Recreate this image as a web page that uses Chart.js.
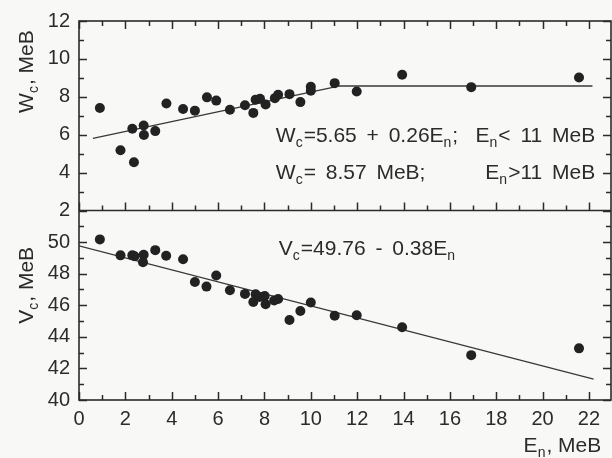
<!DOCTYPE html>
<html>
<head>
<meta charset="utf-8">
<script src="https://cdn.jsdelivr.net/npm/chart.js@4/dist/chart.umd.min.js"></script>
<style>
    body { margin: 0; background: #f8f8f6; }
    #wrap { width: 612px; height: 458px; overflow: hidden; }
</style>
</head>
<body>
<div id="wrap"><canvas id="myChart" width="616" height="458"></canvas></div>
<script>
// neutron energy E_n, MeB
const energies = [0.9, 1.79, 2.30, 2.37, 2.79, 2.80, 3.29, 3.77, 4.49, 5.00, 5.52, 5.92, 6.51, 7.16, 7.52,
    7.62, 7.81, 8.05, 8.45, 8.59, 9.08, 9.55, 10.0, 10.0, 11.03, 11.98, 13.94, 16.92, 21.57]
const wcValues = [7.41, 5.18, 6.31, 4.55, 6.49, 5.98, 6.19, 7.65, 7.36, 7.27, 7.97, 7.80, 7.32, 7.55, 7.15,
    7.85, 7.90, 7.59, 7.93, 8.11, 8.14, 7.72, 8.53, 8.32, 8.72, 8.28, 9.16, 8.51, 9.02]

const energiesV = [0.9, 1.79, 2.30, 2.40, 2.79, 2.76, 3.29, 3.76, 4.49, 5.00, 5.50, 5.92, 6.51, 7.16, 7.52,
    7.62, 7.79, 8.01, 8.05, 8.42, 8.59, 9.08, 9.55, 10.0, 11.03, 11.98, 13.94, 16.92, 21.57]
const vcValues = [50.17, 49.16, 49.16, 49.10, 49.20, 48.72, 49.49, 49.14, 48.91, 47.47, 47.18, 47.88, 46.95, 46.72, 46.21,
    46.70, 46.53, 46.59, 46.06, 46.30, 46.40, 45.07, 45.64, 46.17, 45.33, 45.37, 44.61, 42.84, 43.27]

// fit coefficients
const wcLow = [5.65, 0.26]   // W_c = a + b*E_n, E_n < 11
const wcHigh = 8.57          // E_n > 11
const wcBreak = 11
const vcFit = [49.76, -0.38]

const xTicks = [0, 2, 4, 6, 8, 10, 12, 14, 16, 18, 20, 22]
const wTicks = [2, 4, 6, 8, 10, 12]
const vTicks = [40, 42, 44, 46, 48, 50]
const X_MAX = 22.95
const W_MIN = 2, W_MAX = 12
const V_MIN = 40, V_MAX = 52

const INK = '#2b2b2b'
const FONT = '"Liberation Sans", Arial, sans-serif'
const MAIN_FONT = '21px ' + FONT
const SUB_FONT = '14px ' + FONT

const toPoints = (xs, ys) => xs.map((x, i) => ({ x: x, y: ys[i] }))
const linePts = (a, b, x0, x1) => [{ x: x0, y: a + b * x0 }, { x: x1, y: a + b * x1 }]

// text with subscripts, parts = [{t, sub}]
const drawRich = (c, parts, x, y, align) => {
    const widthOf = p => {
        c.font = p.sub ? SUB_FONT : MAIN_FONT
        return c.measureText(p.t).width + (p.sub ? 1 : 0)
    }
    const total = parts.reduce((s, p) => s + widthOf(p), 0)
    let cx = x
    if (align === 'right') cx = x - total
    if (align === 'center') cx = x - total / 2
    parts.forEach(p => {
        const w = widthOf(p)
        c.fillText(p.t, cx, p.sub ? y + 5 : y)
        cx += w
    })
}

const framePlugin = {
    id: 'frameAndTicks',
    afterDraw(chart) {
        const c = chart.ctx
        const a = chart.chartArea
        const sx = chart.scales.x, sW = chart.scales.yW, sV = chart.scales.yV
        const mid = sW.getPixelForValue(W_MIN)

        // tick marks pointing into the panels, major every 2, minor every 1
        c.save()
        c.strokeStyle = INK
        c.lineWidth = 1.5
        c.beginPath()
        for (let v = 0; v <= 22; v++) {
            const px = Math.round(sx.getPixelForValue(v)) + 0.5
            const len = v % 2 === 0 ? 8 : 5
            c.moveTo(px, a.top); c.lineTo(px, a.top + len)
            c.moveTo(px, mid); c.lineTo(px, mid - len)
            c.moveTo(px, a.bottom); c.lineTo(px, a.bottom - len)
        }
        const sideTicks = (scale, lo, hi) => {
            for (let v = lo; v <= hi; v++) {
                const py = Math.round(scale.getPixelForValue(v)) + 0.5
                const len = v % 2 === 0 ? 8 : 5
                c.moveTo(a.left, py); c.lineTo(a.left + len, py)
                c.moveTo(a.right, py); c.lineTo(a.right - len, py)
            }
        }
        sideTicks(sW, W_MIN, W_MAX)
        sideTicks(sV, V_MIN, V_MAX)
        c.stroke()

        // frame and panel divider
        c.lineWidth = 1.6
        c.strokeRect(a.left, a.top, a.right - a.left, a.bottom - a.top)
        c.beginPath()
        c.moveTo(a.left, mid); c.lineTo(a.right, mid)
        c.stroke()

        // formulas
        c.fillStyle = INK
        c.textBaseline = 'alphabetic'
        c.wordSpacing = '4px'
        const L = sx.getPixelForValue(8.49)
        const R = sx.getPixelForValue(22.27)
        const y1 = sW.getPixelForValue(5.61)
        const y2 = sW.getPixelForValue(3.68)
        drawRich(c, [{ t: 'W' }, { t: 'c', sub: true }, { t: '=5.65 + 0.26E' }, { t: 'n', sub: true }, { t: ';' }], L, y1, 'left')
        drawRich(c, [{ t: 'E' }, { t: 'n', sub: true }, { t: '< 11 MeB' }], R, y1, 'right')
        drawRich(c, [{ t: 'W' }, { t: 'c', sub: true }, { t: '= 8.57 MeB;' }], L, y2, 'left')
        drawRich(c, [{ t: 'E' }, { t: 'n', sub: true }, { t: '>11 MeB' }], R, y2, 'right')
        drawRich(c, [{ t: 'V' }, { t: 'c', sub: true }, { t: '=49.76 - 0.38E' }, { t: 'n', sub: true }],
            sx.getPixelForValue(8.62), sV.getPixelForValue(49.16), 'left')

        // axis titles
        c.wordSpacing = '0px'
        drawRich(c, [{ t: 'E' }, { t: 'n', sub: true }, { t: ', MeB' }], sx.getPixelForValue(22.53), a.bottom + 52, 'right')
        const yTitle = (parts, py) => {
            c.save()
            c.translate(a.left - 46, py)
            c.rotate(-Math.PI / 2)
            drawRich(c, parts, 0, 0, 'center')
            c.restore()
        }
        yTitle([{ t: 'W' }, { t: 'c', sub: true }, { t: ', MeB' }], sW.getPixelForValue(9.33))
        yTitle([{ t: 'V' }, { t: 'c', sub: true }, { t: ', MeB' }], sV.getPixelForValue(47.26))
        c.restore()
    }
}

const tickFont = { family: FONT, size: 20 }
const pointStyle = { pointRadius: 5, pointBackgroundColor: '#222222', pointBorderWidth: 0, order: 1 }
const fitStyle = { showLine: true, pointRadius: 0, borderColor: '#383838', borderWidth: 1.3, order: 2 }

const chartEl = document.getElementById('myChart')
new Chart(chartEl, {
    type: 'scatter',
    data: {
        datasets: [
            { data: toPoints(energies, wcValues), yAxisID: 'yW', ...pointStyle },
            { data: linePts(wcLow[0], wcLow[1], 0.6, wcBreak), yAxisID: 'yW', ...fitStyle },
            { data: linePts(wcHigh, 0, wcBreak, 22.15), yAxisID: 'yW', ...fitStyle },
            { data: toPoints(energiesV, vcValues), yAxisID: 'yV', ...pointStyle },
            { data: linePts(vcFit[0], vcFit[1], 0, 22.2), yAxisID: 'yV', ...fitStyle },
        ]
    },
    options: {
        responsive: false,
        animation: false,
        events: [],
        layout: { padding: { top: 19, right: 2, left: 0, bottom: 0 } },
        plugins: { legend: { display: false }, tooltip: { enabled: false } },
        scales: {
            x: {
                type: 'linear',
                min: 0,
                max: X_MAX,
                afterFit: scale => { scale.height = 58 },
                afterBuildTicks: scale => { scale.ticks = xTicks.map(v => ({ value: v })) },
                grid: { display: false, drawTicks: false },
                border: { display: false },
                ticks: { autoSkip: false, maxRotation: 0, padding: 7, color: INK, font: tickFont },
            },
            yV: {
                type: 'linear',
                position: 'left',
                stack: 'panels',
                min: V_MIN,
                max: V_MAX,
                afterFit: scale => { scale.width = 79 },
                afterBuildTicks: scale => { scale.ticks = vTicks.map(v => ({ value: v })) },
                grid: { display: false, drawTicks: false },
                border: { display: false },
                ticks: { autoSkip: false, padding: 9, color: INK, font: tickFont },
            },
            yW: {
                type: 'linear',
                position: 'left',
                stack: 'panels',
                min: W_MIN,
                max: W_MAX,
                afterFit: scale => { scale.width = 79 },
                afterBuildTicks: scale => { scale.ticks = wTicks.map(v => ({ value: v })) },
                grid: { display: false, drawTicks: false },
                border: { display: false },
                ticks: { autoSkip: false, padding: 9, color: INK, font: tickFont },
            },
        }
    },
    plugins: [framePlugin]
})
</script>
</body>
</html>
